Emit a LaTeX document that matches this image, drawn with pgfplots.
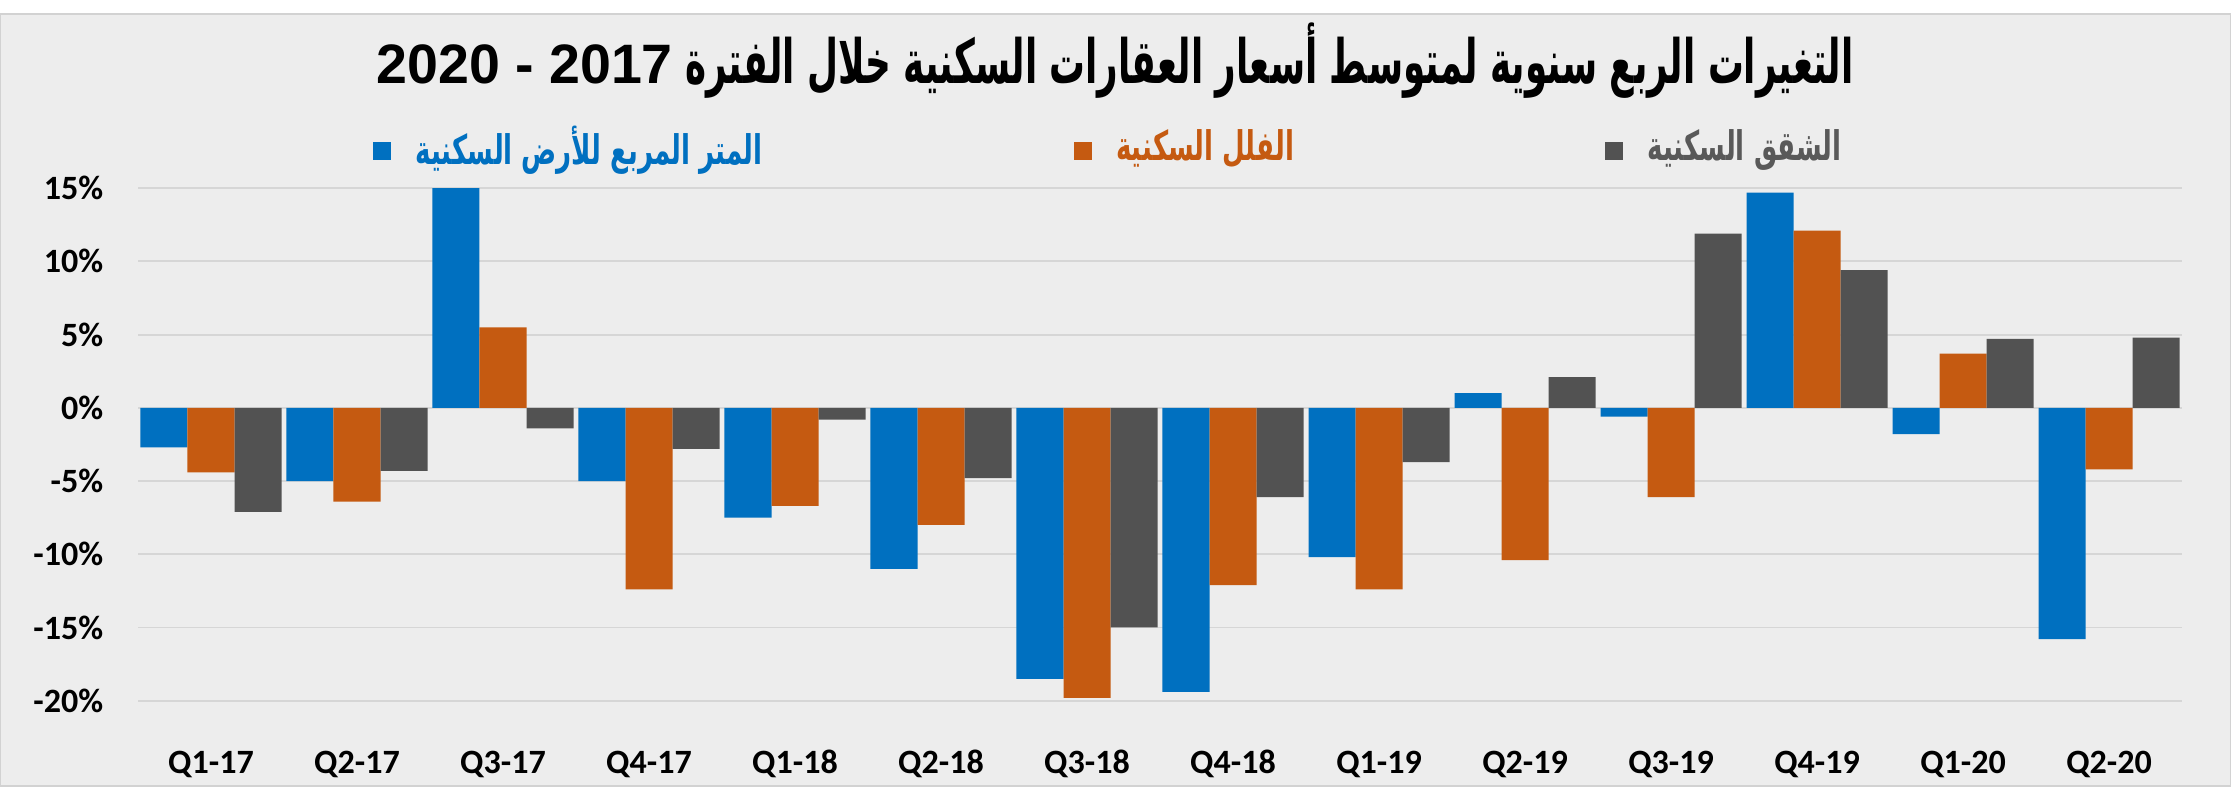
\documentclass[border=0pt]{standalone}
\usepackage{pgfplots}
\pgfplotsset{compat=1.18}
\usepackage{fontspec}
\setmainfont{Carlito}
\newfontfamily\arabicfont[Script=Arabic,FakeStretch=0.64]{DejaVu Sans}
\newfontfamily\titlefont[Script=Arabic,FakeStretch=0.585]{DejaVu Sans}
\newfontfamily\headnum{Liberation Sans}
\TeXXeTstate=1

\definecolor{cblue}{HTML}{0070C0}
\definecolor{corange}{HTML}{C55A11}
\definecolor{cgray}{HTML}{525252}
\definecolor{tgray}{HTML}{595959}
\definecolor{bgcol}{HTML}{EDEDED}
\definecolor{gridcol}{HTML}{D6D6D6}

\pgfplotsset{
  /pgfplots/ybar legend/.style={
    /pgfplots/legend image code/.code={%
      \fill[##1] (0pt,-3.2pt) rectangle (4.9pt,1.7pt);}
  }
}

\begin{document}
\begin{tikzpicture}
\useasboundingbox (0,0) rectangle (602.37pt,212.76pt);
\fill[white] (0,0) rectangle (602.37pt,212.76pt);
\filldraw[fill=bgcol, draw=gray!35, line width=0.4pt] (0.2pt,0.5pt) rectangle (602.17pt,209pt);

\begin{axis}[
  at={(37.26pt,23.57pt)}, anchor=south west,
  scale only axis,
  width=551.9pt, height=138.4pt,
  ybar=0pt,
  bar width=12.7pt,
  xmin=-0.5, xmax=13.5,
  ymin=-20, ymax=15,
  xtick={0,...,13},
  xticklabels={Q1-17,Q2-17,Q3-17,Q4-17,Q1-18,Q2-18,Q3-18,Q4-18,Q1-19,Q2-19,Q3-19,Q4-19,Q1-20,Q2-20},
  ytick={-20,-15,...,15},
  yticklabels={-20\%,-15\%,-10\%,-5\%,0\%,5\%,10\%,15\%},
  ymajorgrids,
  major grid style={draw=gridcol, line width=0.5pt},
  axis line style={draw=none},
  tick style={draw=none},
  ticklabel style={font=\bfseries\fontsize{9.2}{11}\selectfont},
  yticklabel style={anchor=east, inner sep=0pt, xshift=-9.2pt},
  xticklabel style={anchor=base, inner sep=0pt, yshift=-15.5pt},
  title={\beginR التغيرات الربع سنوية لمتوسط أسعار العقارات السكنية خلال الفترة \beginL{\headnum\fontsize{15}{18}\selectfont 2020 - 2017}\endL\endR},
  title style={at={(axis description cs:0.478,1)}, anchor=base, yshift=22.3pt, inner sep=0pt,
    font=\titlefont\bfseries\fontsize{16.5}{19}\selectfont},
  legend columns=3,
  legend style={at={(axis description cs:0.476,1)}, anchor=center, yshift=10.8pt,
    draw=none, fill=none, column sep=4.5pt,
    /tikz/every even column/.append style={column sep=82pt},
    font=\arabicfont\bfseries\fontsize{11}{13}\selectfont},
]
\addplot[fill=cblue, draw=none] coordinates {
  (0,-2.7) (1,-5.0) (2,15.0) (3,-5.0) (4,-7.5) (5,-11.0) (6,-18.5)
  (7,-19.4) (8,-10.2) (9,1.0) (10,-0.6) (11,14.7) (12,-1.8) (13,-15.8)
};
\addlegendentry{\textcolor{cblue}{\beginR المتر المربع للأرض السكنية\endR}}
\addplot[fill=corange, draw=none] coordinates {
  (0,-4.4) (1,-6.4) (2,5.5) (3,-12.4) (4,-6.7) (5,-8.0) (6,-19.8)
  (7,-12.1) (8,-12.4) (9,-10.4) (10,-6.1) (11,12.1) (12,3.7) (13,-4.2)
};
\addlegendentry{\textcolor{corange}{\beginR الفلل السكنية\endR}}
\addplot[fill=cgray, draw=none] coordinates {
  (0,-7.1) (1,-4.3) (2,-1.4) (3,-2.8) (4,-0.8) (5,-4.8) (6,-15.0)
  (7,-6.1) (8,-3.7) (9,2.1) (10,11.9) (11,9.4) (12,4.7) (13,4.8)
};
\addlegendentry{\textcolor{tgray}{\beginR الشقق السكنية\endR}}
\end{axis}
\end{tikzpicture}
\end{document}
